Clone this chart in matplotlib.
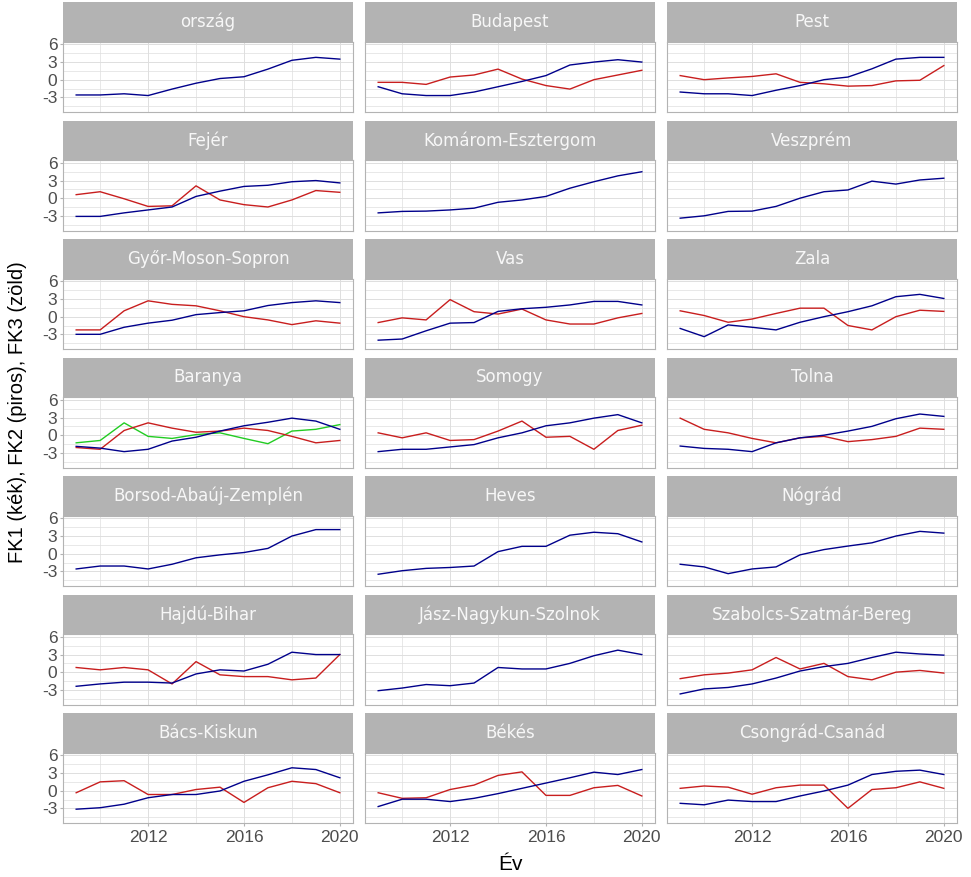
import matplotlib
matplotlib.use("Agg")
import matplotlib.pyplot as plt
from matplotlib.ticker import FixedLocator

years = [2009, 2010, 2011, 2012, 2013, 2014, 2015, 2016, 2017, 2018, 2019, 2020]

regions = ["ország", "Budapest", "Pest",
           "Fejér", "Komárom-Esztergom", "Veszprém",
           "Győr-Moson-Sopron", "Vas", "Zala",
           "Baranya", "Somogy", "Tolna",
           "Borsod-Abaúj-Zemplén", "Heves", "Nógrád",
           "Hajdú-Bihar", "Jász-Nagykun-Szolnok", "Szabolcs-Szatmár-Bereg",
           "Bács-Kiskun", "Békés", "Csongrád-Csanád"]

# FK1 (blue)
fk1_orszag = [-2.6, -2.6, -2.4, -2.7, -1.6, -0.6, 0.2, 0.5, 1.8, 3.3, 3.8, 3.5]
fk1_budapest = [-1.2, -2.4, -2.7, -2.7, -2.1, -1.2, -0.3, 0.7, 2.5, 3.0, 3.4, 3.0]
fk1_pest = [-2.1, -2.4, -2.4, -2.7, -1.8, -1.0, 0.0, 0.45, 1.85, 3.5, 3.8, 3.8]
fk1_fejer = [-3.1, -3.1, -2.5, -2.0, -1.5, 0.3, 1.2, 2.0, 2.2, 2.8, 3.0, 2.6]
fk1_komarom = [-2.5, -2.25, -2.2, -2.0, -1.7, -0.7, -0.3, 0.3, 1.7, 2.8, 3.8, 4.5]
fk1_veszprem = [-3.4, -3.0, -2.25, -2.2, -1.4, 0.0, 1.1, 1.4, 2.9, 2.4, 3.1, 3.4]
fk1_gyor = [-3.0, -3.0, -1.8, -1.1, -0.6, 0.35, 0.7, 1.0, 1.9, 2.4, 2.7, 2.4]
fk1_vas = [-4.0, -3.8, -2.4, -1.1, -1.0, 0.9, 1.35, 1.6, 2.0, 2.6, 2.6, 2.0]
fk1_zala = [-2.0, -3.4, -1.4, -1.8, -2.25, -0.95, 0.0, 0.85, 1.85, 3.4, 3.8, 3.1]
fk1_baranya = [-1.9, -2.2, -2.8, -2.4, -1.0, -0.35, 0.7, 1.6, 2.2, 2.9, 2.4, 1.0]
fk1_somogy = [-2.8, -2.4, -2.4, -2.0, -1.6, -0.45, 0.4, 1.6, 2.1, 2.9, 3.5, 2.1]
fk1_tolna = [-1.85, -2.25, -2.4, -2.8, -1.3, -0.45, 0.0, 0.7, 1.5, 2.8, 3.6, 3.2]
fk1_borsod = [-2.6, -2.1, -2.1, -2.6, -1.8, -0.7, -0.2, 0.2, 0.9, 3.0, 4.1, 4.1]
fk1_heves = [-3.5, -2.9, -2.5, -2.35, -2.1, 0.35, 1.25, 1.25, 3.15, 3.65, 3.4, 2.0]
fk1_nograd = [-1.8, -2.25, -3.4, -2.6, -2.25, -0.2, 0.7, 1.3, 1.85, 3.0, 3.8, 3.5]
fk1_hajdu = [-2.4, -2.0, -1.7, -1.7, -1.85, -0.3, 0.4, 0.2, 1.35, 3.4, 3.0, 3.0]
fk1_jasz = [-3.15, -2.7, -2.1, -2.3, -1.85, 0.8, 0.55, 0.55, 1.5, 2.8, 3.75, 3.0]
fk1_szabolcs = [-3.7, -2.85, -2.6, -2.0, -1.0, 0.2, 0.95, 1.5, 2.5, 3.4, 3.1, 2.9]
fk1_bacs = [-3.15, -2.9, -2.3, -1.2, -0.65, -0.65, -0.05, 1.6, 2.7, 3.9, 3.6, 2.2]
fk1_bekes = [-2.7, -1.45, -1.45, -1.85, -1.3, -0.5, 0.4, 1.3, 2.2, 3.15, 2.75, 3.6]
fk1_csongrad = [-2.15, -2.4, -1.6, -1.85, -1.85, -0.9, -0.05, 0.95, 2.75, 3.3, 3.5, 2.75]

# FK2 (red)
fk2_budapest = [-0.45, -0.45, -0.8, 0.45, 0.8, 1.8, 0.1, -1.0, -1.6, 0.0, 0.8, 1.6]
fk2_pest = [0.7, 0.0, 0.3, 0.55, 1.0, -0.45, -0.7, -1.1, -1.0, -0.2, -0.1, 2.4]
fk2_fejer = [0.6, 1.1, -0.1, -1.4, -1.3, 2.1, -0.3, -1.1, -1.5, -0.3, 1.3, 1.0]
fk2_gyor = [-2.25, -2.25, 1.0, 2.7, 2.1, 1.85, 1.0, 0.0, -0.55, -1.35, -0.7, -1.1]
fk2_vas = [-1.0, -0.2, -0.55, 2.9, 0.85, 0.45, 1.3, -0.55, -1.25, -1.25, -0.2, 0.55]
fk2_zala = [1.0, 0.2, -0.95, -0.4, 0.55, 1.45, 1.45, -1.5, -2.25, 0.0, 1.1, 0.9]
fk2_baranya = [-2.1, -2.4, 0.8, 2.1, 1.2, 0.5, 0.7, 1.2, 0.8, -0.2, -1.3, -0.9]
fk2_somogy = [0.4, -0.45, 0.4, -0.9, -0.75, 0.7, 2.4, -0.35, -0.2, -2.4, 0.8, 1.7]
fk2_tolna = [2.9, 1.0, 0.4, -0.55, -1.3, -0.45, -0.2, -1.1, -0.75, -0.2, 1.2, 1.0]
fk2_hajdu = [0.8, 0.4, 0.8, 0.4, -2.0, 1.8, -0.45, -0.75, -0.75, -1.3, -1.0, 3.0]
fk2_szabolcs = [-1.1, -0.45, -0.15, 0.4, 2.5, 0.55, 1.5, -0.75, -1.3, 0.0, 0.3, -0.15]
fk2_bacs = [-0.35, 1.5, 1.7, -0.65, -0.65, 0.2, 0.6, -2.0, 0.5, 1.6, 1.2, -0.35]
fk2_bekes = [-0.35, -1.3, -1.2, 0.2, 0.95, 2.6, 3.2, -0.8, -0.8, 0.5, 0.9, -0.9]
fk2_csongrad = [0.4, 0.8, 0.6, -0.6, 0.5, 0.95, 0.95, -3.0, 0.2, 0.5, 1.5, 0.4]

# FK3 (green)
fk3_baranya = [-1.3, -0.9, 2.1, -0.2, -0.55, 0.1, 0.4, -0.55, -1.45, 0.7, 1.0, 1.8]

fk1 = {"ország": fk1_orszag, "Budapest": fk1_budapest, "Pest": fk1_pest,
       "Fejér": fk1_fejer, "Komárom-Esztergom": fk1_komarom, "Veszprém": fk1_veszprem,
       "Győr-Moson-Sopron": fk1_gyor, "Vas": fk1_vas, "Zala": fk1_zala,
       "Baranya": fk1_baranya, "Somogy": fk1_somogy, "Tolna": fk1_tolna,
       "Borsod-Abaúj-Zemplén": fk1_borsod, "Heves": fk1_heves, "Nógrád": fk1_nograd,
       "Hajdú-Bihar": fk1_hajdu, "Jász-Nagykun-Szolnok": fk1_jasz,
       "Szabolcs-Szatmár-Bereg": fk1_szabolcs,
       "Bács-Kiskun": fk1_bacs, "Békés": fk1_bekes, "Csongrád-Csanád": fk1_csongrad}
fk2 = {"Budapest": fk2_budapest, "Pest": fk2_pest, "Fejér": fk2_fejer,
       "Győr-Moson-Sopron": fk2_gyor, "Vas": fk2_vas, "Zala": fk2_zala,
       "Baranya": fk2_baranya, "Somogy": fk2_somogy, "Tolna": fk2_tolna,
       "Hajdú-Bihar": fk2_hajdu, "Szabolcs-Szatmár-Bereg": fk2_szabolcs,
       "Bács-Kiskun": fk2_bacs, "Békés": fk2_bekes, "Csongrád-Csanád": fk2_csongrad}
fk3 = {"Baranya": fk3_baranya}

x_major = [2012, 2016, 2020]
x_minor = [2010, 2014, 2018]
y_major = [-3, 0, 3, 6]
y_minor = [-4.5, -1.5, 1.5, 4.5]

W, H = 971, 877
fig = plt.figure(figsize=(W / 100, H / 100), dpi=100)
fig.patch.set_facecolor("white")

col_left = [63, 365, 667]
pw = 290
strip_h = 39.5
ph = 70.5
row_step = 118.5
top0 = 2

BLUE = "#00008B"
RED = "#C81E1E"
GREEN = "#22CC22"
GRID = "#DEDEDE"
BORDER = "#B3B3B3"
TXT = "#4D4D4D"
TICKFONT = ["Liberation Sans", "DejaVu Sans"]


def rect(x, ytop, w, h):
    return [x / W, 1 - (ytop + h) / H, w / W, h / H]


for i, reg in enumerate(regions):
    r, c = divmod(i, 3)
    st = top0 + r * row_step
    # strip
    sax = fig.add_axes(rect(col_left[c], st, pw, strip_h))
    sax.set_facecolor("#B3B3B3")
    for s in sax.spines.values():
        s.set_visible(False)
    sax.set_xticks([])
    sax.set_yticks([])
    sax.text(0.5, 0.5, reg, ha="center", va="center", color="#F7F7F7",
             fontsize=12, family="DejaVu Sans", transform=sax.transAxes)
    # panel
    ax = fig.add_axes(rect(col_left[c], st + strip_h, pw, ph))
    ax.set_xlim(2008.45, 2020.55)
    ax.set_ylim(-5.5, 6.5)
    ax.xaxis.set_major_locator(FixedLocator(x_major))
    ax.xaxis.set_minor_locator(FixedLocator(x_minor))
    ax.yaxis.set_major_locator(FixedLocator(y_major))
    ax.yaxis.set_minor_locator(FixedLocator(y_minor))
    ax.grid(True, which="major", color=GRID, linewidth=0.7)
    ax.grid(True, which="minor", color=GRID, linewidth=0.5)
    ax.set_axisbelow(True)
    for s in ax.spines.values():
        s.set_color(BORDER)
        s.set_linewidth(0.8)
    ax.tick_params(which="minor", length=0)
    ax.tick_params(which="major", length=2.5, color=BORDER, width=0.8,
                   labelcolor=TXT, labelsize=12.5)
    if c != 0:
        ax.tick_params(axis="y", which="major", length=0, labelleft=False)
    else:
        ax.tick_params(axis="y", pad=1.5)
    if r != 6:
        ax.tick_params(axis="x", which="major", length=0, labelbottom=False)
    else:
        ax.tick_params(axis="x", pad=2.5)
    for lab in ax.get_xticklabels() + ax.get_yticklabels():
        lab.set_family(TICKFONT)
    ax.set_yticklabels([str(v) for v in y_major])

    if reg in fk3:
        ax.plot(years, fk3[reg], color=GREEN, linewidth=1.0)
    if reg in fk2:
        ax.plot(years, fk2[reg], color=RED, linewidth=1.0)
    ax.plot(years, fk1[reg], color=BLUE, linewidth=1.0)

fig.text(510 / W, 1 - 865 / H, "Év", ha="center", va="center",
         fontsize=15, color="black", family=TICKFONT)
fig.text(18 / W, 1 - 412 / H, "FK1 (kék), FK2 (piros), FK3 (zöld)",
         ha="center", va="center", rotation=90,
         fontsize=14.5, color="black", family=TICKFONT)

fig.savefig("out.png", dpi=100, facecolor="white")
